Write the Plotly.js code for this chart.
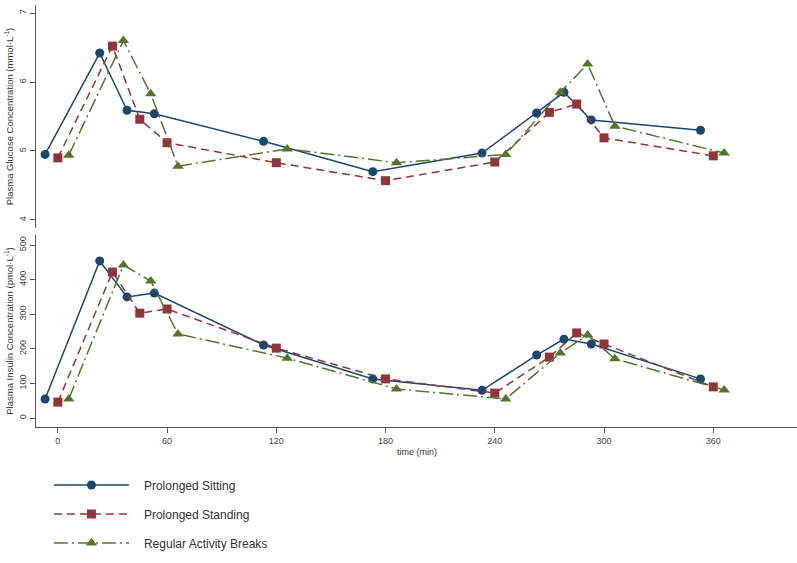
<!DOCTYPE html>
<html>
<head>
<meta charset="utf-8">
<script src="https://cdn.plot.ly/plotly-3.0.1.min.js"></script>
<style>html,body{margin:0;padding:0;background:#fff;}#chart{width:797px;height:563px;}</style>
</head>
<body>
<div id="chart"></div>
<script>
// Time points (min) per series (offset for visibility, as in the reference)
const timeSitting  = [-7, 23, 38, 53, 113, 173, 233, 263, 278, 293, 353];
const timeStanding = [0, 30, 45, 60, 120, 180, 240, 270, 285, 300, 360];
const timeBreaks   = [6, 36, 51, 66, 126, 186, 246, 276, 291, 306, 366];

// Plasma glucose (mmol/L)
const glucoseSitting  = [4.95, 6.42, 5.59, 5.54, 5.14, 4.70, 4.97, 5.55, 5.85, 5.45, 5.30];
const glucoseStanding = [4.90, 6.52, 5.46, 5.12, 4.83, 4.57, 4.84, 5.56, 5.68, 5.19, 4.93];
const glucoseBreaks   = [4.94, 6.60, 5.83, 4.78, 5.03, 4.83, 4.95, 5.85, 6.26, 5.36, 4.97];

// Plasma insulin (pmol/L)
const insulinSitting  = [55, 454, 350, 361, 211, 113, 80, 182, 228, 214, 113];
const insulinStanding = [46, 422, 303, 315, 202, 113, 72, 176, 246, 214, 90];
const insulinBreaks   = [55, 442, 396, 243, 173, 84, 55, 188, 240, 171, 81];

const seriesNames = ["Prolonged Sitting", "Prolonged Standing", "Regular Activity Breaks"];
const xTicks = [0, 60, 120, 180, 240, 300, 360];
const glucoseTicks = [4, 5, 6, 7];
const insulinTicks = [0, 100, 200, 300, 400, 500];

const colors = ["#1A476F", "#90353B", "#55752F"];
const dashes = ["solid", "8px,5px", "14px,4px,2px,4px"];
const symbols = ["circle", "square", "triangle-up"];
const sizes = [9, 9, 10];

const times = [timeSitting, timeStanding, timeBreaks];
const glu = [glucoseSitting, glucoseStanding, glucoseBreaks];
const ins = [insulinSitting, insulinStanding, insulinBreaks];

const pad = "\u00a0\u00a0\u00a0";
const traces = [];
for (let i = 0; i < 3; i++) {
  traces.push({
    x: times[i], y: glu[i], xaxis: "x", yaxis: "y2",
    type: "scatter", mode: "lines+markers", name: pad + seriesNames[i],
    legendgroup: "g" + i, showlegend: true,
    line: {color: colors[i], width: 1.5, dash: dashes[i]},
    marker: {symbol: symbols[i], size: sizes[i], color: colors[i]}
  });
}
for (let i = 0; i < 3; i++) {
  traces.push({
    x: times[i], y: ins[i], xaxis: "x", yaxis: "y",
    type: "scatter", mode: "lines+markers", name: seriesNames[i],
    legendgroup: "g" + i, showlegend: false,
    line: {color: colors[i], width: 1.5, dash: dashes[i]},
    marker: {symbol: symbols[i], size: sizes[i], color: colors[i]}
  });
}

const tickFont = {family: "Liberation Sans, Arial, sans-serif", size: 9, color: "#444"};
const titleFont = {family: "Liberation Sans, Arial, sans-serif", size: 9.5, color: "#333"};

const layout = {
  width: 797, height: 563,
  margin: {l: 36, r: 0, t: 5, b: 136},
  paper_bgcolor: "#fff", plot_bgcolor: "#fff",
  showlegend: true,
  legend: {
    x: 0.017, y: -0.103, xanchor: "left", yanchor: "top",
    traceorder: "grouped", tracegroupgap: 10, itemwidth: 75,
    font: {family: "Liberation Sans, Arial, sans-serif", size: 12, color: "#333"},
    bgcolor: "rgba(0,0,0,0)"
  },
  xaxis: {
    anchor: "y", domain: [0, 1], range: [-12, 406],
    tickmode: "array", tickvals: xTicks, ticktext: xTicks.map(String),
    ticks: "outside", ticklen: 5, tickcolor: "#555", tickfont: tickFont,
    showline: true, linecolor: "#555", linewidth: 1, showgrid: false, zeroline: false
  },
  yaxis: {
    anchor: "x", domain: [0, 0.455], range: [-26, 529],
    tickmode: "array", tickvals: insulinTicks, ticktext: insulinTicks.map(String),
    tickangle: -90, ticks: "outside", ticklen: 5, tickcolor: "#555", tickfont: tickFont,
    showline: true, linecolor: "#555", linewidth: 1, showgrid: false, zeroline: false,
    title: {text: "Plasma Insulin Concentration (pmol·L<sup>-1</sup>)", font: titleFont, standoff: 3}
  },
  yaxis2: {
    anchor: "x", domain: [0.4716, 1], range: [3.884, 7.116],
    tickmode: "array", tickvals: glucoseTicks, ticktext: glucoseTicks.map(String),
    tickangle: -90, ticks: "outside", ticklen: 5, tickcolor: "#555", tickfont: tickFont,
    showline: true, linecolor: "#555", linewidth: 1, showgrid: false, zeroline: false,
    title: {text: "Plasma Glucose Concentration (mmol·L<sup>-1</sup>)", font: titleFont, standoff: 3}
  },
  annotations: [{
    text: "time (min)", xref: "paper", yref: "paper", x: 0.5, y: -0.06,
    xanchor: "center", yanchor: "middle", showarrow: false,
    font: {family: "Liberation Sans, Arial, sans-serif", size: 9, color: "#333"}
  }]
};

Plotly.newPlot("chart", traces, layout, {displayModeBar: false, staticPlot: true});
</script>
</body>
</html>
